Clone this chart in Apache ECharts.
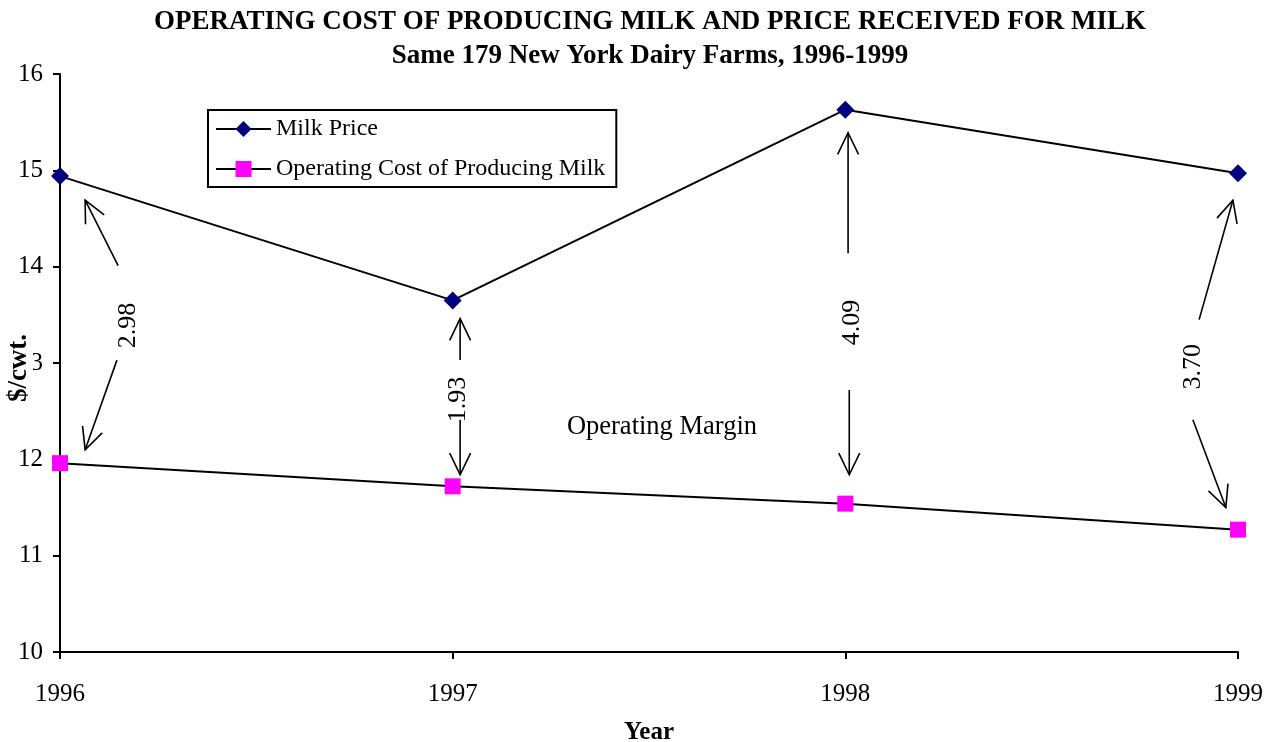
<!DOCTYPE html>
<html>
<head>
<meta charset="utf-8">
<title>Operating cost of producing milk</title>
<script src="https://cdn.jsdelivr.net/npm/echarts@6/dist/echarts.min.js"></script>
<style>
  html, body { margin: 0; padding: 0; background: #fff; }
  #main { width: 1271px; height: 742px; }
</style>
</head>
<body>
<div id="main"></div>
<script>
// values
var years = [1996, 1997, 1998, 1999];
var milkPrice = [14.94, 13.65, 15.63, 14.97];
var operatingCost = [11.96, 11.72, 11.54, 11.27];
var marginLabels = ['2.98', '1.93', '4.09', '3.70'];

// arrows as [fromX, fromY, toX, toY] in data units, head at the "to" end
var marginArrows = [
    [1996.148, 14.01, 1996.064, 14.69],
    [1996.145, 13.03, 1996.064, 12.10],
    [1997.019, 13.03, 1997.019, 13.46],
    [1997.019, 12.41, 1997.019, 11.84],
    [1998.007, 14.14, 1998.007, 15.39],
    [1998.010, 12.72, 1998.010, 11.84],
    [1998.901, 13.45, 1998.987, 14.69],
    [1998.885, 12.41, 1998.969, 11.50]
];
// where the margin numbers sit: [x, y]
var marginLabelPos = [
    [1996.173, 13.39],
    [1997.014, 12.62],
    [1998.017, 13.42],
    [1998.885, 12.96]
];
var noteText = 'Operating Margin';
var notePos = [1997.533, 12.33];

var serif = '"Liberation Serif", "Times New Roman", serif';

function pairs(xs, ys) {
    return xs.map(function (x, i) { return [x, ys[i]]; });
}

function renderArrow(params, api) {
    var p1 = api.coord([api.value(0), api.value(1)]);
    var p2 = api.coord([api.value(2), api.value(3)]);
    var ang = Math.atan2(p2[1] - p1[1], p2[0] - p1[0]);
    var len = 24, spread = 0.45;
    var w1 = [p2[0] - len * Math.cos(ang - spread), p2[1] - len * Math.sin(ang - spread)];
    var w2 = [p2[0] - len * Math.cos(ang + spread), p2[1] - len * Math.sin(ang + spread)];
    return {
        type: 'group',
        children: [
            { type: 'line', shape: { x1: p1[0], y1: p1[1], x2: p2[0], y2: p2[1] },
              style: { stroke: '#000', lineWidth: 1.6 } },
            { type: 'polyline', shape: { points: [w1, p2, w2] },
              style: { stroke: '#000', lineWidth: 1.6, fill: null } }
        ]
    };
}

function renderMarginLabel(params, api) {
    var p = api.coord([api.value(0), api.value(1)]);
    return {
        type: 'text', x: p[0], y: p[1], rotation: Math.PI / 2,
        style: { text: marginLabels[params.dataIndex], font: '26px ' + serif,
                 fill: '#000', align: 'center', verticalAlign: 'middle' }
    };
}

function renderNote(params, api) {
    var p = api.coord([api.value(0), api.value(1)]);
    return {
        type: 'text', x: p[0], y: p[1],
        style: { text: noteText, font: '26.5px ' + serif,
                 fill: '#000', align: 'center', verticalAlign: 'middle' }
    };
}

var myChart = echarts.init(document.getElementById('main'));
myChart.setOption({
    backgroundColor: '#fff',
    animation: false,
    title: {
        text: 'OPERATING COST OF PRODUCING MILK AND PRICE RECEIVED FOR MILK\nSame 179 New York Dairy Farms, 1996-1999',
        left: 650, top: 5, textAlign: 'center', padding: 0,
        textStyle: { fontFamily: serif, fontWeight: 'bold', fontSize: 27, lineHeight: 34, color: '#000' }
    },
    legend: {
        orient: 'vertical', left: 208, top: 110,
        data: ['Milk Price', 'Operating Cost of Producing Milk'],
        itemWidth: 55, itemHeight: 20, itemGap: 16,
        padding: [7, 11, 6, 7],
        borderColor: '#000', borderWidth: 2,
        textStyle: { fontFamily: serif, fontSize: 24, color: '#000' }
    },
    grid: { left: 60, right: 33, top: 74, bottom: 90, containLabel: false, outerBoundsMode: 'none' },
    xAxis: {
        type: 'value', min: 1996, max: 1999, interval: 1,
        name: 'Year', nameLocation: 'middle', nameGap: 68, nameMoveOverlap: false,
        nameTextStyle: { fontFamily: serif, fontWeight: 'bold', fontSize: 25, color: '#000' },
        axisLine: { lineStyle: { color: '#000', width: 2 } },
        axisTick: { length: 7, lineStyle: { color: '#000', width: 2 } },
        axisLabel: { margin: 30, fontFamily: serif, fontSize: 25, color: '#000',
                     formatter: function (v) { return String(v); } },
        splitLine: { show: false }
    },
    yAxis: [
        {
            type: 'value', min: 10, max: 16, interval: 1,
            axisLine: { show: true, lineStyle: { color: '#000', width: 2 } },
            axisTick: { show: true, length: 7, lineStyle: { color: '#000', width: 2 } },
            axisLabel: { margin: 17, fontFamily: serif, fontSize: 25, color: '#000' },
            splitLine: { show: false }
        },
        {
            // carries only the axis title, drawn above the tick labels as in the original
            type: 'value', min: 10, max: 16, interval: 1, position: 'left', z: 5,
            name: '$/cwt.', nameLocation: 'middle', nameGap: 27, nameMoveOverlap: false,
            nameTextStyle: { fontFamily: serif, fontWeight: 'bold', fontSize: 27, color: '#000',
                             backgroundColor: '#fff', padding: [0, 12, 0, 2] },
            axisLine: { show: false }, axisTick: { show: false },
            axisLabel: { show: false }, splitLine: { show: false }
        }
    ],
    series: [
        {
            name: 'Milk Price', type: 'line',
            data: pairs(years, milkPrice),
            symbol: 'diamond', symbolSize: 18,
            itemStyle: { color: '#000080' },
            lineStyle: { color: '#000', width: 2 },
            z: 3
        },
        {
            name: 'Operating Cost of Producing Milk', type: 'line',
            data: pairs(years, operatingCost),
            symbol: 'rect', symbolSize: 16,
            itemStyle: { color: '#ff00ff' },
            lineStyle: { color: '#000', width: 2 },
            z: 3
        },
        {
            type: 'custom', renderItem: renderArrow, clip: false, silent: true,
            data: marginArrows, encode: { x: [0, 2], y: [1, 3] }
        },
        {
            type: 'custom', renderItem: renderMarginLabel, clip: false, silent: true,
            data: marginLabelPos, encode: { x: 0, y: 1 }
        },
        {
            type: 'custom', renderItem: renderNote, clip: false, silent: true,
            data: [notePos], encode: { x: 0, y: 1 }
        }
    ]
});
</script>
</body>
</html>
